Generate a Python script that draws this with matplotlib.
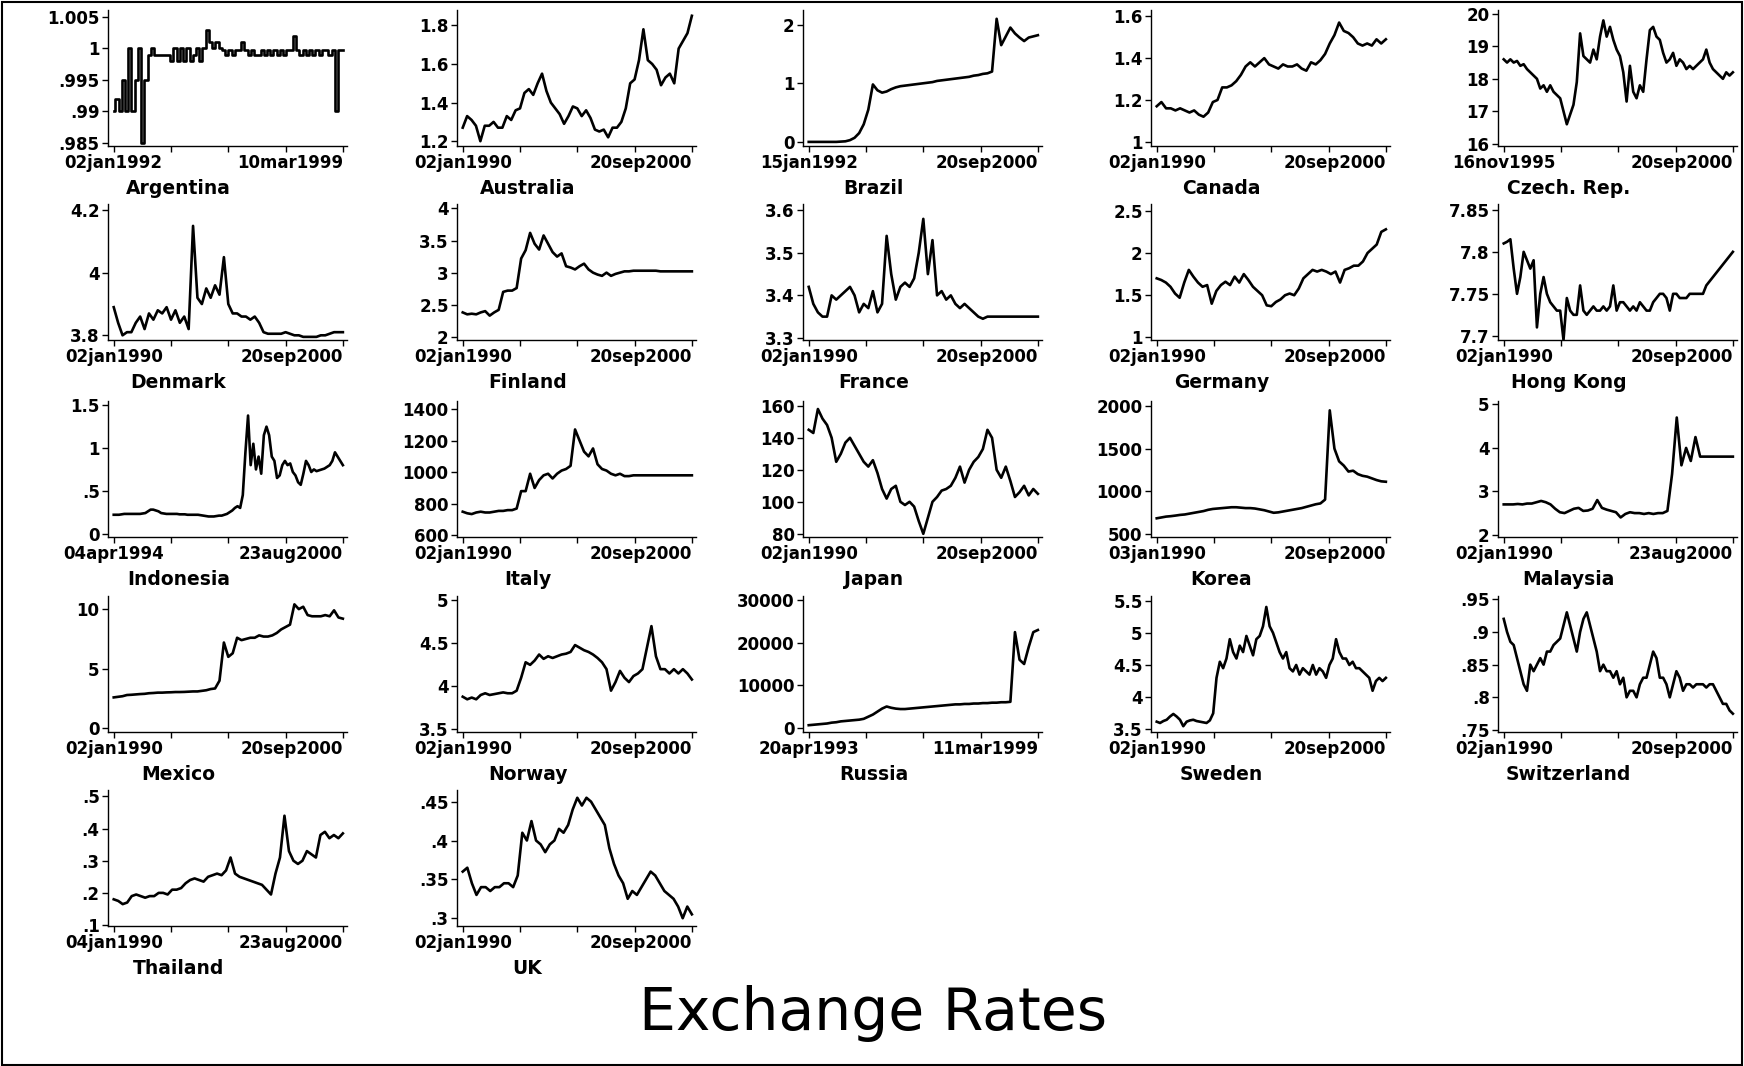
import numpy as np
import matplotlib
matplotlib.use("Agg")
import matplotlib.pyplot as plt
from matplotlib.patches import Rectangle

# ---------------- data (evenly spaced in time) ----------------
argentina = [.990, .992, .990, .995, .990, 1.000, .990, .995, 1.000, .985, .995, .999, 1.000, .999,
             .999, .999, .999, .999, .998, 1.000, .998, 1.000, .998, 1.000, .998, .999, 1.000, .998,
             1.000, 1.003, 1.001, 1.000, 1.001, 1.000, .9997, .999, .9997, .999, .9997, .9997, 1.001,
             .9997, .999, .9997, .999, .999, .9997, .999, .9997, .999, .9997, .999, .9997, .999, .9997,
             .9997, 1.002, .9997, .999, .9997, .999, .9997, .999, .9997, .999, .9997, .9997, .999,
             .9997, .990, .9997, .9997]
australia = [1.27, 1.33, 1.31, 1.28, 1.20, 1.28, 1.28, 1.30, 1.27, 1.27, 1.33, 1.31, 1.36, 1.37,
             1.45, 1.47, 1.44, 1.50, 1.55, 1.46, 1.40, 1.37, 1.34, 1.29, 1.33, 1.38, 1.37, 1.33,
             1.36, 1.32, 1.26, 1.25, 1.26, 1.22, 1.27, 1.27, 1.30, 1.37, 1.50, 1.52, 1.62, 1.78,
             1.62, 1.60, 1.57, 1.49, 1.53, 1.55, 1.50, 1.68, 1.72, 1.76, 1.85]
brazil = [0, 0, 0, 0, 0, 0, 0, .005, .01, .03, .07, .15, .30, .55, .98, .88, .84, .86, .90, .93,
          .95, .96, .97, .98, .99, 1.00, 1.01, 1.02, 1.04, 1.05, 1.06, 1.07, 1.08, 1.09, 1.10,
          1.11, 1.13, 1.14, 1.16, 1.17, 1.20, 2.10, 1.65, 1.80, 1.95, 1.85, 1.78, 1.72, 1.78,
          1.80, 1.82]
canada = [1.17, 1.19, 1.16, 1.16, 1.15, 1.16, 1.15, 1.14, 1.15, 1.13, 1.12, 1.14, 1.19, 1.20,
          1.26, 1.26, 1.27, 1.29, 1.32, 1.36, 1.38, 1.36, 1.38, 1.40, 1.37, 1.36, 1.35, 1.37,
          1.36, 1.36, 1.37, 1.35, 1.34, 1.38, 1.37, 1.39, 1.42, 1.47, 1.51, 1.57, 1.53, 1.52,
          1.50, 1.47, 1.46, 1.47, 1.46, 1.49, 1.47, 1.49]
czech = [18.6, 18.5, 18.6, 18.5, 18.55, 18.4, 18.45, 18.3, 18.2, 18.1, 18.0, 17.7, 17.8, 17.6,
         17.8, 17.6, 17.5, 17.4, 17.0, 16.6, 16.9, 17.2, 17.9, 19.4, 18.7, 18.6, 18.5, 18.9, 18.6,
         19.3, 19.8, 19.3, 19.6, 19.2, 18.9, 18.7, 18.2, 17.3, 18.4, 17.6, 17.4, 17.8, 17.6, 18.6,
         19.5, 19.6, 19.3, 19.2, 18.8, 18.5, 18.6, 18.8, 18.4, 18.6, 18.5, 18.3, 18.4, 18.3, 18.4,
         18.5, 18.6, 18.9, 18.5, 18.3, 18.2, 18.1, 18.0, 18.2, 18.1, 18.2]
denmark = [3.89, 3.84, 3.80, 3.81, 3.81, 3.84, 3.86, 3.82, 3.87, 3.85, 3.88, 3.87, 3.89, 3.85,
           3.88, 3.84, 3.86, 3.82, 4.15, 3.92, 3.90, 3.95, 3.92, 3.96, 3.93, 4.05, 3.90, 3.87,
           3.87, 3.86, 3.86, 3.85, 3.86, 3.84, 3.81, 3.805, 3.805, 3.805, 3.805, 3.81, 3.805, 3.80,
           3.80, 3.795, 3.795, 3.795, 3.795, 3.80, 3.80, 3.805, 3.81, 3.81, 3.81]
finland = [2.38, 2.35, 2.36, 2.35, 2.38, 2.40, 2.33, 2.38, 2.42, 2.70, 2.72, 2.72, 2.76, 3.22,
           3.35, 3.62, 3.45, 3.36, 3.58, 3.45, 3.32, 3.25, 3.30, 3.10, 3.08, 3.05, 3.10, 3.14,
           3.05, 3.00, 2.97, 2.95, 3.00, 2.95, 2.98, 3.00, 3.02, 3.02, 3.03, 3.03, 3.03, 3.03,
           3.03, 3.03, 3.02, 3.02, 3.02, 3.02, 3.02, 3.02, 3.02, 3.02]
france = [3.42, 3.38, 3.36, 3.35, 3.35, 3.40, 3.39, 3.40, 3.41, 3.42, 3.40, 3.36, 3.38, 3.37,
          3.41, 3.36, 3.38, 3.54, 3.45, 3.39, 3.42, 3.43, 3.42, 3.44, 3.50, 3.58, 3.45, 3.53,
          3.40, 3.41, 3.39, 3.40, 3.38, 3.37, 3.38, 3.37, 3.36, 3.35, 3.345, 3.35, 3.35, 3.35,
          3.35, 3.35, 3.35, 3.35, 3.35, 3.35, 3.35, 3.35, 3.35]
germany = [1.70, 1.68, 1.65, 1.60, 1.52, 1.47, 1.65, 1.80, 1.72, 1.65, 1.60, 1.62, 1.40, 1.55,
           1.62, 1.66, 1.62, 1.72, 1.65, 1.75, 1.68, 1.60, 1.55, 1.50, 1.38, 1.37, 1.42, 1.45,
           1.50, 1.52, 1.50, 1.58, 1.70, 1.75, 1.80, 1.78, 1.80, 1.78, 1.75, 1.78, 1.65, 1.80,
           1.82, 1.85, 1.85, 1.90, 2.00, 2.05, 2.10, 2.25, 2.28]
hong_kong = [7.81, 7.812, 7.815, 7.78, 7.75, 7.77, 7.80, 7.79, 7.78, 7.79, 7.71, 7.75, 7.77, 7.75,
             7.74, 7.735, 7.73, 7.73, 7.695, 7.745, 7.73, 7.725, 7.725, 7.76, 7.73, 7.725, 7.73,
             7.735, 7.73, 7.73, 7.735, 7.73, 7.735, 7.76, 7.73, 7.74, 7.74, 7.735, 7.73, 7.735,
             7.73, 7.74, 7.735, 7.73, 7.73, 7.74, 7.745, 7.75, 7.75, 7.745, 7.73, 7.75, 7.75,
             7.745, 7.745, 7.745, 7.75, 7.75, 7.75, 7.75, 7.75, 7.76, 7.765, 7.77, 7.775, 7.78,
             7.785, 7.79, 7.795, 7.80]
indonesia = [.22, .22, .22, .225, .23, .23, .23, .23, .23, .23, .23, .235, .24, .26, .28, .28, .27,
             .26, .24, .235, .23, .23, .23, .23, .23, .225, .225, .225, .22, .22, .22, .22, .22,
             .215, .21, .205, .20, .20, .20, .205, .21, .21, .22, .23, .25, .27, .30, .32, .30,
             .45, .95, 1.38, .80, 1.05, .75, .90, .70, 1.15, 1.25, 1.15, .90, .85, .65, .68, .80,
             .85, .80, .82, .72, .68, .60, .57, .70, .85, .80, .72, .75, .73, .74, .75, .76, .78,
             .80, .85, .95, .90, .85, .80]
italy = [750, 740, 735, 745, 750, 745, 745, 750, 755, 755, 760, 760, 770, 880, 880, 990, 900,
         950, 980, 990, 960, 990, 1010, 1020, 1040, 1270, 1200, 1130, 1100, 1150, 1050, 1020,
         1010, 990, 980, 990, 975, 975, 980, 980, 980, 980, 980, 980, 980, 980, 980, 980, 980,
         980, 980, 980]
japan = [145, 143, 158, 152, 148, 140, 125, 130, 137, 140, 135, 130, 125, 122, 126, 118, 108,
         102, 108, 110, 100, 98, 100, 97, 88, 80, 90, 100, 103, 107, 108, 110, 115, 122, 112,
         120, 125, 128, 133, 145, 140, 120, 115, 122, 113, 103, 106, 110, 104, 108, 105]
korea = [680, 690, 700, 705, 712, 720, 725, 735, 745, 755, 765, 780, 790, 795, 800, 805, 810,
         810, 805, 800, 800, 795, 785, 775, 760, 745, 750, 760, 770, 780, 790, 800, 815, 830,
         845, 855, 900, 1950, 1500, 1350, 1300, 1230, 1240, 1200, 1180, 1170, 1150, 1130, 1115,
         1110]
malaysia = [2.70, 2.70, 2.70, 2.71, 2.70, 2.72, 2.72, 2.75, 2.78, 2.75, 2.70, 2.60, 2.52, 2.50,
            2.55, 2.60, 2.62, 2.55, 2.56, 2.60, 2.80, 2.62, 2.58, 2.55, 2.52, 2.40, 2.48, 2.52,
            2.50, 2.50, 2.48, 2.50, 2.48, 2.50, 2.50, 2.55, 3.40, 4.70, 3.60, 4.00, 3.70, 4.25,
            3.80, 3.80, 3.80, 3.80, 3.80, 3.80, 3.80, 3.80]
mexico = [2.6, 2.65, 2.7, 2.8, 2.82, 2.85, 2.88, 2.9, 2.95, 2.97, 3.0, 3.0, 3.02, 3.03, 3.05,
          3.05, 3.06, 3.08, 3.1, 3.1, 3.15, 3.2, 3.3, 3.35, 4.0, 7.2, 6.0, 6.3, 7.6, 7.4, 7.5,
          7.6, 7.6, 7.8, 7.7, 7.7, 7.8, 8.0, 8.3, 8.5, 8.7, 10.4, 10.0, 10.2, 9.5, 9.4, 9.4, 9.4,
          9.5, 9.4, 9.9, 9.3, 9.2]
norway = [3.88, 3.85, 3.87, 3.85, 3.90, 3.92, 3.90, 3.91, 3.92, 3.93, 3.92, 3.92, 3.95, 4.10,
          4.28, 4.25, 4.30, 4.37, 4.32, 4.35, 4.33, 4.35, 4.37, 4.38, 4.40, 4.48, 4.45, 4.42,
          4.40, 4.37, 4.33, 4.28, 4.20, 3.95, 4.05, 4.18, 4.10, 4.05, 4.12, 4.15, 4.20, 4.45,
          4.70, 4.35, 4.20, 4.20, 4.15, 4.20, 4.15, 4.20, 4.15, 4.08]
russia = [600, 700, 800, 900, 1000, 1200, 1300, 1500, 1600, 1700, 1800, 1900, 2100, 2600, 3100,
          3800, 4500, 5000, 4700, 4500, 4400, 4400, 4500, 4600, 4700, 4800, 4900, 5000, 5100,
          5200, 5300, 5400, 5500, 5500, 5600, 5600, 5700, 5700, 5800, 5800, 5900, 5900, 6000,
          6000, 6100, 22500, 16000, 15000, 19000, 22500, 23000]
sweden = [3.62, 3.60, 3.63, 3.65, 3.70, 3.74, 3.70, 3.65, 3.55, 3.62, 3.64, 3.65, 3.63, 3.62,
          3.61, 3.60, 3.64, 3.75, 4.30, 4.55, 4.45, 4.60, 4.90, 4.70, 4.60, 4.80, 4.70, 4.95,
          4.80, 4.65, 4.90, 4.95, 5.10, 5.40, 5.10, 5.00, 4.85, 4.70, 4.60, 4.70, 4.45, 4.40,
          4.50, 4.35, 4.45, 4.40, 4.35, 4.50, 4.35, 4.45, 4.40, 4.30, 4.50, 4.60, 4.90, 4.70,
          4.60, 4.60, 4.50, 4.55, 4.45, 4.45, 4.40, 4.35, 4.30, 4.10, 4.25, 4.30, 4.25, 4.30]
switzerland = [.92, .90, .885, .88, .86, .84, .82, .81, .85, .84, .85, .86, .85, .87, .87, .88,
               .885, .89, .91, .93, .91, .89, .87, .90, .92, .93, .91, .89, .87, .84, .85, .84,
               .84, .83, .84, .82, .83, .80, .81, .81, .80, .82, .83, .83, .85, .87, .86, .83,
               .83, .82, .80, .82, .84, .83, .81, .82, .82, .815, .82, .82, .82, .815, .82, .82,
               .81, .80, .79, .79, .78, .775]
thailand = [.18, .175, .165, .17, .19, .195, .19, .185, .19, .19, .20, .20, .195, .21, .21, .215,
            .23, .24, .245, .24, .235, .25, .255, .26, .255, .27, .31, .26, .25, .245, .24, .235,
            .23, .225, .21, .195, .26, .31, .44, .33, .30, .29, .30, .33, .32, .31, .38, .39, .37,
            .38, .37, .385]
uk = [.36, .365, .345, .33, .34, .34, .335, .34, .34, .345, .345, .34, .355, .41, .40, .425,
      .40, .395, .385, .395, .40, .415, .41, .42, .44, .455, .445, .455, .45, .44, .43, .42, .39,
      .37, .355, .345, .325, .335, .33, .34, .35, .36, .355, .345, .335, .33, .325, .315, .30,
      .315, .305]

countries = ["Argentina", "Australia", "Brazil", "Canada", "Czech. Rep.",
             "Denmark", "Finland", "France", "Germany", "Hong Kong",
             "Indonesia", "Italy", "Japan", "Korea", "Malaysia",
             "Mexico", "Norway", "Russia", "Sweden", "Switzerland",
             "Thailand", "UK"]
series = [argentina, australia, brazil, canada, czech,
          denmark, finland, france, germany, hong_kong,
          indonesia, italy, japan, korea, malaysia,
          mexico, norway, russia, sweden, switzerland,
          thailand, uk]
start_labels = ["02jan1992", "02jan1990", "15jan1992", "02jan1990", "16nov1995",
                "02jan1990", "02jan1990", "02jan1990", "02jan1990", "02jan1990",
                "04apr1994", "02jan1990", "02jan1990", "03jan1990", "02jan1990",
                "02jan1990", "02jan1990", "20apr1993", "02jan1990", "02jan1990",
                "04jan1990", "02jan1990"]
end_labels = ["10mar1999", "20sep2000", "20sep2000", "20sep2000", "20sep2000",
              "20sep2000", "20sep2000", "20sep2000", "20sep2000", "20sep2000",
              "23aug2000", "20sep2000", "20sep2000", "20sep2000", "23aug2000",
              "20sep2000", "20sep2000", "11mar1999", "20sep2000", "20sep2000",
              "23aug2000", "20sep2000"]
y_ticks = [[.985, .99, .995, 1, 1.005], [1.2, 1.4, 1.6, 1.8], [0, 1, 2], [1, 1.2, 1.4, 1.6],
           [16, 17, 18, 19, 20],
           [3.8, 4, 4.2], [2, 2.5, 3, 3.5, 4], [3.3, 3.4, 3.5, 3.6], [1, 1.5, 2, 2.5],
           [7.7, 7.75, 7.8, 7.85],
           [0, .5, 1, 1.5], [600, 800, 1000, 1200, 1400], [80, 100, 120, 140, 160],
           [500, 1000, 1500, 2000], [2, 3, 4, 5],
           [0, 5, 10], [3.5, 4, 4.5, 5], [0, 10000, 20000, 30000], [3.5, 4, 4.5, 5, 5.5],
           [.75, .8, .85, .9, .95],
           [.1, .2, .3, .4, .5], [.3, .35, .4, .45]]
y_limits = [(.9845, 1.0061), (1.175, 1.88), (-0.07, 2.25), (0.98, 1.63), (15.93, 20.12),
            (3.785, 4.22), (1.95, 4.07), (3.295, 3.615), (0.97, 2.58), (7.695, 7.857),
            (-0.04, 1.55), (590, 1450), (78, 163), (460, 2060), (1.95, 5.08),
            (-0.3, 11.1), (3.47, 5.05), (-1000, 31000), (3.46, 5.57), (.747, .955),
            (0.097, 0.52), (0.29, 0.465)]
title = "Exchange Rates"


def stata_label(v):
    s = f"{v:g}"
    if s.startswith("0."):
        s = s[1:]
    return s


# ---------------- figure ----------------
W, H = 1744, 1066
fig = plt.figure(figsize=(W / 100, H / 100), dpi=100)
plt.rcParams["font.family"] = ["DejaVu Sans"]

col_left = [108, 457, 803, 1151, 1498]
row_bottom = [146, 340, 537, 732, 926]
ax_w, ax_h = 239, 136

for i, (name, vals) in enumerate(zip(countries, series)):
    r, c = divmod(i, 5)
    ax = fig.add_axes([col_left[c] / W, 1 - row_bottom[r] / H, ax_w / W, ax_h / H])
    x = np.linspace(0, 1, len(vals))
    style = "steps-mid" if name == "Argentina" else "default"
    ax.plot(x, vals, color="black", lw=1.9, solid_joinstyle="round", drawstyle=style)
    ax.set_xlim(-0.025, 1.018)
    ax.set_ylim(*y_limits[i])
    for s in ("top", "right"):
        ax.spines[s].set_visible(False)
    for s in ("left", "bottom"):
        ax.spines[s].set_linewidth(1.0)
    ax.set_xticks([0, .25, .5, .75, 1])
    xl = ax.set_xticklabels([start_labels[i], "", "", "", end_labels[i]],
                            fontsize=12, fontweight="bold")
    xl[-1].set_horizontalalignment("right")
    ax.set_yticks(y_ticks[i])
    ax.set_yticklabels([stata_label(v) for v in y_ticks[i]], fontsize=12, fontweight="bold")
    ax.tick_params(direction="out", length=4, width=1.0, pad=2)
    ax.text(0.295, -0.31, name, transform=ax.transAxes, ha="center", va="center",
            fontsize=13.5, fontweight="bold")

fig.text(0.5005, 1 - 1030 / H, title, ha="center", va="baseline", fontsize=42)
fig.add_artist(Rectangle((0.001, 0.001), 0.998, 0.997, transform=fig.transFigure,
                         fill=False, lw=1.5, ec="black"))
fig.savefig("out.png", dpi=100, facecolor="white")
